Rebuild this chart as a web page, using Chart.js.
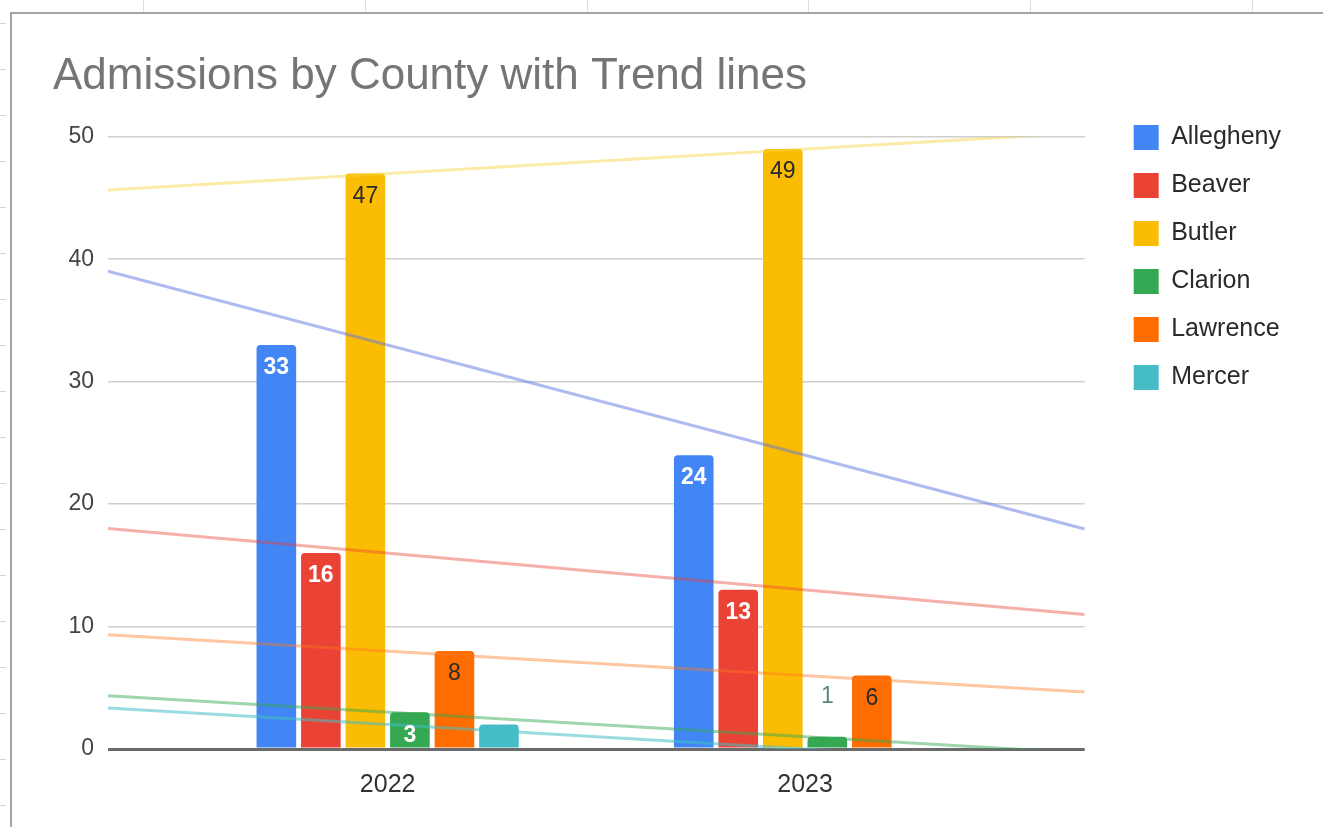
<!DOCTYPE html>
<html>
<head>
<meta charset="utf-8">
<title>Admissions by County with Trend lines</title>
<script src="https://cdn.jsdelivr.net/npm/chart.js@4.4.0/dist/chart.umd.min.js"></script>
<style>
  html, body { margin: 0; padding: 0; background: #fff; }
  body { width: 1323px; height: 827px; position: relative; overflow: hidden; }
  /* spreadsheet cells peeking out around the chart */
  .col-line { position: absolute; top: 0; height: 12px; width: 1px; background: #dcdcdc; }
  .row-ticks {
    position: absolute; left: 0; top: 0; width: 6px; height: 827px;
    background: repeating-linear-gradient(to bottom, transparent 0, transparent 23px, #d6d6d6 23px, #d6d6d6 24px, transparent 24px, transparent 46px);
  }
  .chart-frame {
    position: absolute; left: 10px; top: 12px; right: 0; bottom: 0;
    border-top: 2px solid #a3a3a3; border-left: 2px solid #a3a3a3; background: #fff;
  }
  #chart { position: absolute; left: 0; top: 0; }
</style>
</head>
<body>
<div class="row-ticks"></div>
<div class="col-line" style="left:143px"></div>
<div class="col-line" style="left:365px"></div>
<div class="col-line" style="left:587px"></div>
<div class="col-line" style="left:808px"></div>
<div class="col-line" style="left:1030px"></div>
<div class="col-line" style="left:1252px"></div>
<div class="chart-frame">
  <canvas id="chart" width="1311" height="813"></canvas>
</div>
<script>
// data
const years = [2022, 2023];
const counties = ['Allegheny', 'Beaver', 'Butler', 'Clarion', 'Lawrence', 'Mercer'];
const allegheny = [33, 24];
const beaver = [16, 13];
const butler = [47, 49];
const clarion = [3, 1];
const lawrence = [8, 6];
const mercer = [2, 0];
const yTicks = [0, 10, 20, 30, 40, 50];

// x range of the plot (years are treated as numbers so trend lines can span it)
const X_MIN = 2021.33;
const X_MAX = 2023.67;

const seriesValues = [allegheny, beaver, butler, clarion, lawrence, mercer];
const barColors = ['#4285F4', '#EA4335', '#FBBC04', '#34A853', '#FF6D01', '#46BDC6'];
const trendColors = [
  'rgba(95, 120, 225, 0.5)',
  'rgba(234, 67, 53, 0.42)',
  'rgba(245, 210, 60, 0.45)',
  'rgba(52, 168, 83, 0.48)',
  'rgba(255, 120, 30, 0.42)',
  'rgba(70, 189, 198, 0.55)'
];
// label colour inside the bar, null = no labels for that series
const labelColors = ['#ffffff', '#ffffff', '#2b2b2b', '#ffffff', '#2b2b2b', null];
const outsideLabelColors = ['#3c6fd0', '#c5392c', '#7a6000', '#5a8c74', '#b85200', '#3a9aa3'];

const FONT = "'Liberation Sans', Arial, sans-serif";
Chart.defaults.font.family = FONT;

// least squares line through a series, evaluated at the plot edges
function trendLine(values) {
  const n = years.length;
  const mx = years.reduce((a, b) => a + b, 0) / n;
  const my = values.reduce((a, b) => a + b, 0) / n;
  let sxy = 0, sxx = 0;
  years.forEach((x, i) => {
    sxy += (x - mx) * (values[i] - my);
    sxx += (x - mx) * (x - mx);
  });
  const slope = sxy / sxx;
  return [X_MIN, X_MAX].map(x => ({ x: x, y: my + slope * (x - mx) }));
}

const datasets = [];
counties.forEach((name, s) => {
  datasets.push({
    type: 'bar',
    label: name,
    data: years.map((y, i) => ({ x: y, y: seriesValues[s][i] })),
    backgroundColor: barColors[s],
    borderRadius: 4,
    borderSkipped: 'start',
    labelColor: labelColors[s],
    outsideColor: outsideLabelColors[s],
    order: 1
  });
});
counties.forEach((name, s) => {
  datasets.push({
    type: 'line',
    label: name + ' trend',
    data: trendLine(seriesValues[s]),
    borderColor: trendColors[s],
    borderWidth: 3,
    pointRadius: 0,
    fill: false,
    order: 0
  });
});

// value labels on the bars
const barLabels = {
  id: 'barLabels',
  afterDatasetsDraw(chart) {
    const ctx = chart.ctx;
    chart.data.datasets.forEach((ds, di) => {
      if (ds.type !== 'bar' || !ds.labelColor) return;
      const meta = chart.getDatasetMeta(di);
      meta.data.forEach((bar, i) => {
        const v = ds.data[i].y;
        if (!v) return;
        const h = bar.base - bar.y;
        ctx.save();
        ctx.textAlign = 'center';
        ctx.textBaseline = 'middle';
        if (h >= 34) {
          const bold = ds.labelColor === '#ffffff';
          ctx.font = (bold ? 'bold ' : '') + '23px ' + FONT;
          ctx.fillStyle = ds.labelColor;
          ctx.fillText(String(v), bar.x, bar.y + 23);
        } else {
          ctx.font = '23px ' + FONT;
          ctx.fillStyle = ds.outsideColor;
          ctx.fillText(String(v), bar.x, bar.y - 40);
        }
        ctx.restore();
      });
    });
  }
};

new Chart(document.getElementById('chart'), {
  type: 'bar',
  data: { datasets: datasets },
  plugins: [barLabels],
  options: {
    responsive: false,
    animation: false,
    devicePixelRatio: 1,
    categoryPercentage: 0.64,
    barPercentage: 0.89,
    layout: { padding: { left: 41, right: 32, top: 0, bottom: 6 } },
    plugins: {
      title: {
        display: true,
        text: 'Admissions by County with Trend lines',
        align: 'start',
        color: '#757575',
        font: { size: 44, weight: 'normal', family: FONT },
        padding: { top: 36, bottom: 34 }
      },
      legend: {
        position: 'right',
        align: 'start',
        title: { display: true, text: '', padding: { top: 78, bottom: 0 }, font: { size: 10, lineHeight: 1 } },
        labels: {
          boxWidth: 25,
          boxHeight: 25,
          padding: 23,
          color: '#2a2a2a',
          font: { size: 25, family: FONT },
          filter: item => item.datasetIndex < counties.length
        }
      },
      tooltip: { enabled: false }
    },
    scales: {
      x: {
        type: 'linear',
        min: X_MIN,
        max: X_MAX,
        offset: false,
        afterBuildTicks: scale => { scale.ticks = years.map(v => ({ value: v })); },
        ticks: {
          callback: v => String(v),
          color: '#333333',
          font: { size: 25 },
          padding: 21,
          maxRotation: 0
        },
        grid: { display: false, drawTicks: false, offset: false },
        border: { display: false }
      },
      y: {
        min: 0,
        max: 50,
        afterBuildTicks: scale => { scale.ticks = yTicks.map(v => ({ value: v })); },
        afterFit: scale => { scale.width = 55; },
        ticks: {
          color: '#444444',
          font: { size: 23 },
          padding: 14
        },
        grid: {
          drawTicks: false,
          color: c => (c.tick && c.tick.value === 0) ? '#6a6a6a' : '#cfcfcf',
          lineWidth: c => (c.tick && c.tick.value === 0) ? 3 : 1.5
        },
        border: { display: false }
      },
      gap: {
        // spacer between plot and legend
        type: 'linear',
        position: 'right',
        display: true,
        afterFit: scale => { scale.width = 26; },
        ticks: { display: false },
        grid: { display: false, drawTicks: false },
        border: { display: false }
      }
    }
  }
});
</script>
</body>
</html>
